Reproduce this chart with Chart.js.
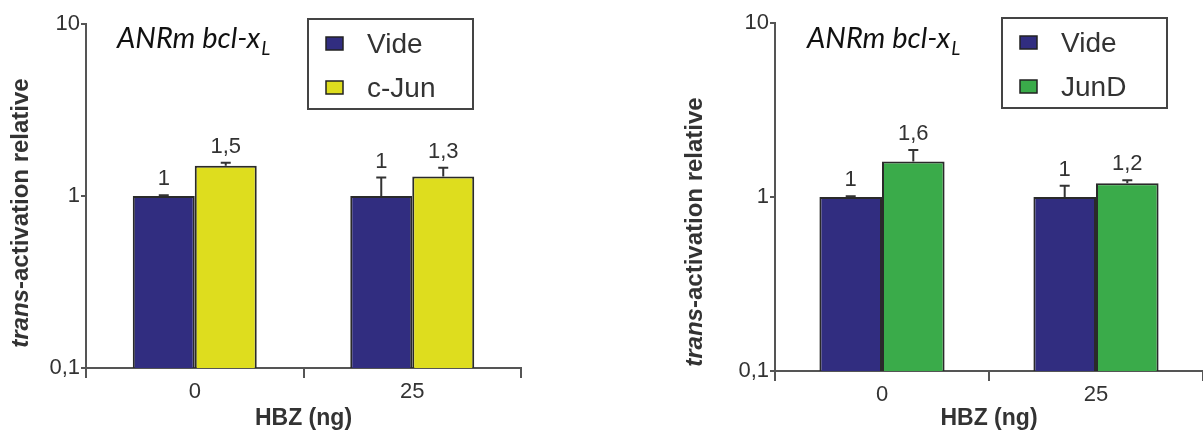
<!DOCTYPE html>
<html lang="fr">
<head>
<meta charset="utf-8">
<title>ANRm bcl-xL — trans-activation</title>
<script src="https://cdn.jsdelivr.net/npm/chart.js@4.4.1/dist/chart.umd.min.js"></script>
<style>
  html,body{margin:0;padding:0;background:#fff;}
  #wrap{position:relative;width:1203px;height:437px;overflow:hidden;}
  canvas{position:absolute;top:0;}
  #c-jun{left:0;}
  #c-jund{left:600px;}
</style>
</head>
<body>
<div id="wrap">
  <canvas id="c-jun" width="600" height="437"></canvas>
  <canvas id="c-jund" width="603" height="437"></canvas>
</div>
<script>
/* ---------- données ---------- */
const doses = ["0", "25"];              // HBZ (ng)
const yTicks = [0.1, 1, 10];

// panneau gauche : Vide / c-Jun
const videA    = [1, 1];
const videAErr = [0.01, 0.28];
const cJun     = [1.5, 1.3];
const cJunErr  = [0.06, 0.16];

// panneau droit : Vide / JunD
const videB    = [1, 1];
const videBErr = [0.01, 0.16];
const junD     = [1.6, 1.2];
const junDErr  = [0.26, 0.05];

const COL_VIDE = "#312d80";
const COL_CJUN = "#dedd1e";
const COL_JUND = "#3aab4a";
const INK = "#333";
const AXIS = "#555";
const SANS = "'Liberation Sans', Arial, sans-serif";

const fmt = (v)=>String(v).replace(".", ",");

/* ---------- plugin : barres d'erreur, valeurs, légende, titres ---------- */
const decor = {
  id: "decor",
  afterDatasetsDraw(chart, args, o){
    const ctx = chart.ctx;
    const y = chart.scales.y;
    ctx.save();
    chart.data.datasets.forEach((ds, di)=>{
      const meta = chart.getDatasetMeta(di);
      meta.data.forEach((bar, i)=>{
        const top = y.getPixelForValue(ds.data[i] + ds.err[i]);
        ctx.strokeStyle = INK; ctx.lineWidth = 2;
        ctx.beginPath();
        ctx.moveTo(bar.x, bar.y); ctx.lineTo(bar.x, top);
        ctx.moveTo(bar.x - 5, top); ctx.lineTo(bar.x + 5, top);
        ctx.stroke();
        ctx.fillStyle = INK;
        ctx.font = `22px ${SANS}`;
        ctx.textAlign = "center"; ctx.textBaseline = "alphabetic";
        ctx.fillText(fmt(ds.data[i]), bar.x, top - 10);
      });
    });
    ctx.restore();
  },
  afterDraw(chart, args, o){
    const ctx = chart.ctx;
    ctx.save();

    // titre : ANRm bcl-x(L)
    ctx.fillStyle = "#111";
    ctx.textAlign = "left"; ctx.textBaseline = "alphabetic";
    ctx.font = "italic 29px Lato, 'Open Sans', sans-serif";
    const main = "ANRm bcl-x";
    ctx.fillText(main, o.titleX, o.titleY);
    const w = ctx.measureText(main).width;
    ctx.font = "italic 19px Lato, 'Open Sans', sans-serif";
    ctx.fillText("L", o.titleX + w + 1, o.titleY + 7);

    // titre axe Y : "trans" en italique
    ctx.translate(o.yTitleX, o.yTitleY);
    ctx.rotate(-Math.PI/2);
    const p1 = "trans", p2 = "-activation relative";
    ctx.font = `italic bold 24px ${SANS}`;
    const w1 = ctx.measureText(p1).width;
    ctx.font = `bold 24px ${SANS}`;
    const w2 = ctx.measureText(p2).width;
    ctx.textBaseline = "middle";
    ctx.fillStyle = INK;
    ctx.font = `italic bold 24px ${SANS}`;
    ctx.fillText(p1, -(w1 + w2)/2, 0);
    ctx.font = `bold 24px ${SANS}`;
    ctx.fillText(p2, -(w1 + w2)/2 + w1, 0);
    ctx.setTransform(1,0,0,1,0,0);

    // légende encadrée
    const L = o.legend;
    ctx.strokeStyle = "#444"; ctx.lineWidth = 2;
    ctx.strokeRect(L.x, L.y, 165, 90);
    chart.data.datasets.forEach((ds, di)=>{
      const cy = L.y + 24 + di*44;
      ctx.fillStyle = ds.backgroundColor;
      ctx.fillRect(L.x + 18, cy - 6, 17, 13);
      ctx.strokeStyle = "#222"; ctx.lineWidth = 1.5;
      ctx.strokeRect(L.x + 18, cy - 6, 17, 13);
      ctx.fillStyle = INK;
      ctx.font = `28px ${SANS}`;
      ctx.textBaseline = "middle";
      ctx.fillText(ds.label, L.x + 59, cy + 2);
    });
    ctx.restore();
  }
};

/* ---------- construction d'un panneau ---------- */
function panel(id, series, geo){
  return new Chart(document.getElementById(id), {
    type: "bar",
    data: {
      labels: doses,
      datasets: series.map(s=>({
        label: s.label, data: s.data, err: s.err,
        backgroundColor: s.color, borderColor: "#2a2a2a", borderWidth: 2,
        categoryPercentage: geo.catPct, barPercentage: 1
      }))
    },
    options: {
      responsive: false,
      animation: false,
      events: [],
      layout: { padding: { top: geo.top, right: geo.right, left: 0, bottom: 0 } },
      plugins: {
        legend: { display: false },
        tooltip: { enabled: false },
        decor: geo.decor
      },
      scales: {
        x: {
          type: "category",
          offset: true,
          grid: { offset: true, drawOnChartArea: false, drawTicks: true, tickLength: 10, color: AXIS, lineWidth: 2 },
          border: { display: true, color: AXIS, width: 2 },
          ticks: { color: INK, font: { family: SANS, size: 22 }, padding: 1 },
          title: { display: true, text: "HBZ (ng)", color: INK, font: { family: SANS, size: 23, weight: "bold" }, padding: { top: 0, bottom: 5 } },
          afterFit: (s)=>{ s.height = geo.xH; }
        },
        y: {
          type: "logarithmic",
          min: 0.1, max: 10,
          afterBuildTicks: (s)=>{ s.ticks = yTicks.map(v=>({ value: v })); },
          grid: { drawOnChartArea: false, drawTicks: true, tickLength: 5, color: AXIS, lineWidth: 2 },
          border: { display: true, color: AXIS, width: 2 },
          ticks: { color: INK, font: { family: SANS, size: 22 }, padding: 1, autoSkip: false, callback: (v)=>fmt(v) },
          afterFit: (s)=>{ s.width = geo.yW; }
        }
      }
    },
    plugins: [decor]
  });
}

panel("c-jun", [
  { label: "Vide",  data: videA, err: videAErr, color: COL_VIDE },
  { label: "c-Jun", data: cJun,  err: cJunErr,  color: COL_CJUN }
], {
  top: 24, right: 79, yW: 86, xH: 69, catPct: 0.57,
  decor: { titleX: 117, titleY: 48, yTitleX: 21, yTitleY: 213, legend: { x: 308, y: 19 } }
});

panel("c-jund", [
  { label: "Vide", data: videB, err: videBErr, color: COL_VIDE },
  { label: "JunD", data: junD,  err: junDErr,  color: COL_JUND }
], {
  top: 23, right: 0, yW: 175, xH: 66, catPct: 0.585,
  decor: { titleX: 207, titleY: 48, yTitleX: 95, yTitleY: 232, legend: { x: 402, y: 18 } }
});
</script>
</body>
</html>
